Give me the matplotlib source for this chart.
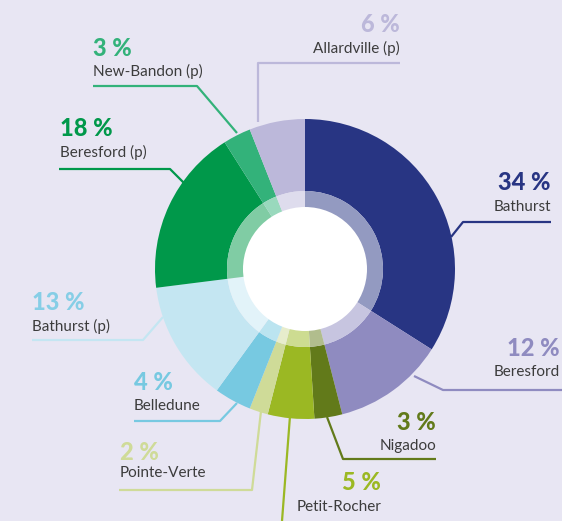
import numpy as np
import matplotlib.pyplot as plt
from matplotlib.patches import Circle
from matplotlib.colors import to_rgb

# Data: share of households per community (clockwise from the top)
names = ["Bathurst", "Beresford", "Nigadoo", "Petit-Rocher", "Pointe-Verte",
         "Belledune", "Bathurst (p)", "Beresford (p)", "New-Bandon (p)",
         "Allardville (p)"]
shares = [34, 12, 3, 5, 2, 4, 13, 18, 3, 6]
colors = ["#283583", "#8f8bc0", "#627a1a", "#9bb823", "#cfdb98",
          "#77c9e1", "#c4e6f2", "#00984a", "#33b27a", "#bcb8da"]
# percent labels use the slice colour, except the palest blue one
pct_colors = list(colors)
pct_colors[6] = "#86cee6"

W, H = 562, 521
BG = "#e8e6f3"
CX, CY = 305, H - 269


def up(y):
    # pixel row (top origin) -> axes y
    return H - y


def lighten(c, f=0.5):
    r = np.array(to_rgb(c))
    return tuple(r + (1 - r) * f)


fig = plt.figure(figsize=(W / 100, H / 100), dpi=100, facecolor=BG)
ax = fig.add_axes([0, 0, 1, 1])
ax.set_facecolor(BG)

ax.pie(shares, colors=colors, startangle=90, counterclock=False,
       center=(CX, CY), radius=150,
       wedgeprops=dict(width=72, edgecolor="none", linewidth=0))
ax.pie(shares, colors=[lighten(c) for c in colors], startangle=90,
       counterclock=False, center=(CX, CY), radius=78,
       wedgeprops=dict(width=17, edgecolor="none", linewidth=0))
ax.add_patch(Circle((CX, CY), 62, facecolor="white", edgecolor="none"))

# label layout: (pct x, pct y, name y, alignment, leader points)
layout = {
    "Bathurst": (551, 183, 207, "right", [(551, 222), (463, 222), (451, 237)]),
    "Beresford": (560, 349, 372, "right", [(562, 390), (443, 390), (414, 376)]),
    "Nigadoo": (436, 423, 446, "right", [(436, 459), (343, 459), (327, 417)]),
    "Petit-Rocher": (381, 483, 507, "right", [(282, 521), (290, 416)]),
    "Pointe-Verte": (120, 452, 473, "left", [(119, 490), (252, 490), (261, 411)]),
    "Belledune": (134, 383, 406, "left", [(134, 421), (220, 421), (237, 403)]),
    "Bathurst (p)": (32, 303, 326, "left", [(32, 340), (143, 340), (163, 317)]),
    "Beresford (p)": (60, 128, 152, "left", [(59, 169), (170, 169), (184, 183)]),
    "New-Bandon (p)": (93, 48, 71, "left", [(93, 86), (197, 86), (237, 133)]),
    "Allardville (p)": (400, 25, 48, "right", [(400, 63), (258, 63), (258, 122)]),
}

for name, share, col, pcol in zip(names, shares, colors, pct_colors):
    px, py, ny, ha, pts = layout[name]
    xs = [p[0] for p in pts]
    ys = [up(p[1]) for p in pts]
    ax.plot(xs, ys, color=col, lw=1.6, solid_capstyle="butt", zorder=1)
    ax.text(px, up(py), f"{share} %", color=pcol, ha=ha, va="center",
            fontsize=17, fontweight="black", family="Lato")
    ax.text(px, up(ny), name, color="#3c3c3c", ha=ha, va="center",
            fontsize=11, family="Lato")

ax.set_xlim(0, W)
ax.set_ylim(0, H)
ax.set_aspect("equal")
ax.axis("off")

fig.savefig("out.png", dpi=100, facecolor=BG)
